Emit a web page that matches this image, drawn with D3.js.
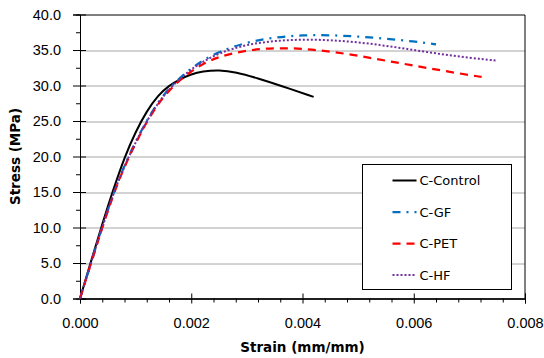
<!DOCTYPE html>
<html>
<head>
<meta charset="utf-8">
<script src="https://cdn.jsdelivr.net/npm/d3@7"></script>
<style>
  body { margin: 0; background: #fff; }
  svg { display: block; font-family: "DejaVu Sans", sans-serif; }
  .tick text { font-size: 14.5px; fill: #000; }
</style>
</head>
<body>
<div id="chart"></div>
<script>
// strain (mm/mm) / stress (MPa) pairs
var control = [[0,0],[0.0002,5.3],[0.0004,10.5],[0.0006,15.4],[0.0008,19.9],[0.001,23.5],[0.0012,26.4],[0.0014,28.6],[0.0016,30.0],[0.0018,30.9],[0.002,31.6],[0.0022,32.0],[0.0025,32.2],[0.0028,31.9],[0.0032,31.0],[0.0036,30.0],[0.0042,28.4]];
var gf = [[0,0],[0.0002,5.1],[0.0004,10.1],[0.0006,14.8],[0.0008,18.8],[0.001,22.1],[0.0012,25.1],[0.0014,27.6],[0.0016,29.6],[0.0018,31.1],[0.002,32.4],[0.0022,33.5],[0.0025,34.8],[0.003,36.1],[0.0035,36.8],[0.004,37.1],[0.0045,37.1],[0.005,36.9],[0.0055,36.6],[0.006,36.2],[0.0064,35.8]];
var pet = [[0,0],[0.0002,5.0],[0.0004,10.0],[0.0006,14.7],[0.0008,18.6],[0.001,21.9],[0.0012,24.9],[0.0014,27.4],[0.0016,29.3],[0.0018,30.8],[0.002,32.0],[0.0022,33.0],[0.0025,34.1],[0.003,35.0],[0.0035,35.3],[0.004,35.2],[0.0045,34.8],[0.005,34.2],[0.0055,33.5],[0.006,32.8],[0.0065,32.1],[0.0073,31.1]];
var hf = [[0,0],[0.0002,5.1],[0.0004,10.1],[0.0006,14.8],[0.0008,18.7],[0.001,22.0],[0.0012,25.0],[0.0014,27.5],[0.0016,29.5],[0.0018,31.0],[0.002,32.3],[0.0022,33.3],[0.0025,34.6],[0.003,35.8],[0.0035,36.3],[0.004,36.5],[0.0045,36.4],[0.005,36.1],[0.0055,35.6],[0.006,35.0],[0.0065,34.4],[0.007,33.9],[0.0075,33.5]];

var seriesNames = ["C-Control", "C-GF", "C-PET", "C-HF"];
var xTicks = [0, 0.002, 0.004, 0.006, 0.008];
var yTicks = [0, 5, 10, 15, 20, 25, 30, 35, 40];

var series = [
  {name: seriesNames[0], data: control, color: "#000000", dash: null, width: 2},
  {name: seriesNames[1], data: gf, color: "#0070C0", dash: "8,6,2,6", width: 2.25},
  {name: seriesNames[2], data: pet, color: "#FF0000", dash: "8,6", width: 2.25},
  {name: seriesNames[3], data: hf, color: "#7030A0", dash: "2,2", width: 2}
];

var W = 544, H = 358;
var margin = {top: 14.5, right: 19, bottom: 59.5, left: 80};
var width = W - margin.left - margin.right,
    height = H - margin.top - margin.bottom;

var svg = d3.select("#chart").append("svg")
    .attr("width", W)
    .attr("height", H);

var g = svg.append("g")
    .attr("transform", "translate(" + margin.left + "," + margin.top + ")");

var x = d3.scaleLinear().domain([0, 0.008]).range([0, width]);
var y = d3.scaleLinear().domain([0, 40]).range([height, 0]);

// gridlines
g.append("g").selectAll("line")
  .data(yTicks.filter(function(d) { return d > 0 && d < 40; }))
  .enter().append("line")
    .attr("x1", 0).attr("x2", width)
    .attr("y1", function(d) { return Math.round(y(d)) + 0.5; })
    .attr("y2", function(d) { return Math.round(y(d)) + 0.5; })
    .attr("stroke", "#A6A6A6")
    .attr("stroke-width", 1);

// top and right border
g.append("path")
  .attr("d", "M0,0.5H" + width + "V" + height)
  .attr("fill", "none")
  .attr("stroke", "#000")
  .attr("stroke-width", 1);

var minorX = d3.range(0, 0.00801, 0.0004).filter(function(d, i) { return i % 5 != 0; });
var minorY = d3.range(2.5, 40, 5);

// x axis
g.append("g")
  .attr("transform", "translate(0," + height + ")")
  .call(d3.axisBottom(x).tickValues(xTicks).tickFormat(d3.format(".3f")).tickSize(5).tickPadding(14));
g.append("g")
  .attr("transform", "translate(0," + height + ")")
  .call(d3.axisTop(x).tickValues(xTicks).tickFormat("").tickSize(5));
g.append("g")
  .attr("transform", "translate(0," + height + ")")
  .call(d3.axisBottom(x).tickValues(minorX).tickFormat("").tickSize(4));

// y axis
g.append("g")
  .call(d3.axisLeft(y).tickValues(yTicks).tickFormat(d3.format(".1f")).tickSize(7).tickPadding(12));
g.append("g")
  .call(d3.axisRight(y).tickValues(yTicks.slice(0, -1)).tickFormat("").tickSize(6));
g.append("g")
  .call(d3.axisLeft(y).tickValues(minorY).tickFormat("").tickSize(4));

g.selectAll(".domain").attr("stroke", "#000");
g.selectAll(".tick line").attr("stroke", "#000");

// curves
var line = d3.line()
  .x(function(d) { return x(d[0]); })
  .y(function(d) { return y(d[1]); })
  .curve(d3.curveBasis);

g.selectAll("path.series")
  .data(series)
  .enter().append("path")
    .attr("class", "series")
    .attr("d", function(d) { return line(d.data); })
    .attr("fill", "none")
    .attr("stroke", function(d) { return d.color; })
    .attr("stroke-width", function(d) { return d.width; })
    .attr("stroke-dasharray", function(d) { return d.dash; });

// axis titles
svg.append("text")
  .attr("x", margin.left + width / 2)
  .attr("y", 352)
  .attr("text-anchor", "middle")
  .attr("font-weight", "bold")
  .attr("font-size", "13.5px")
  .text("Strain (mm/mm)");

svg.append("text")
  .attr("transform", "translate(20," + (margin.top + height / 2) + ") rotate(-90)")
  .attr("text-anchor", "middle")
  .attr("font-weight", "bold")
  .attr("font-size", "13.5px")
  .text("Stress (MPa)");

// legend
var legend = svg.append("g").attr("transform", "translate(362.5,164.5)");
legend.append("rect")
  .attr("width", 149).attr("height", 125)
  .attr("fill", "#fff").attr("stroke", "#000").attr("stroke-width", 1);

var item = legend.selectAll("g.item")
  .data(series)
  .enter().append("g")
    .attr("class", "item")
    .attr("transform", function(d, i) { return "translate(0," + (16 + i * 31.5) + ")"; });

item.append("line")
  .attr("x1", 30).attr("x2", 54)
  .attr("stroke", function(d) { return d.color; })
  .attr("stroke-width", function(d) { return d.width; })
  .attr("stroke-dasharray", function(d) { return d.dash; });

item.append("text")
  .attr("x", 57)
  .attr("dy", "0.35em")
  .attr("font-size", "13px")
  .text(function(d) { return d.name; });
</script>
</body>
</html>
